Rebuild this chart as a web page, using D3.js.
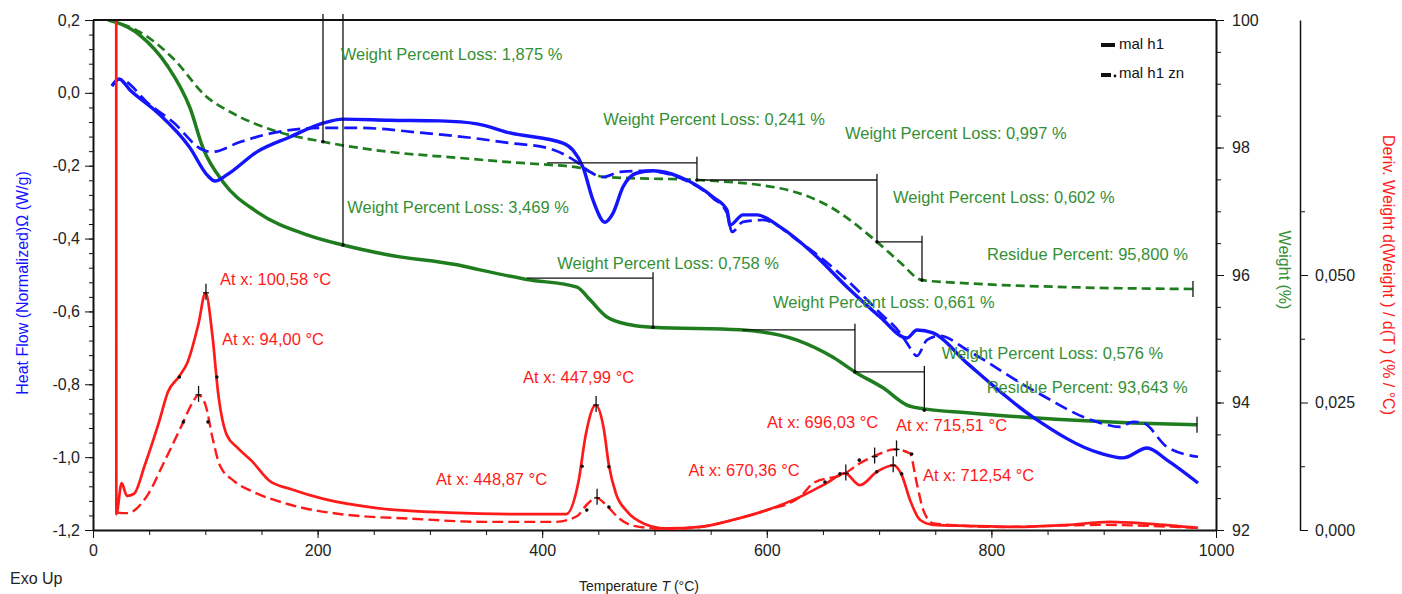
<!DOCTYPE html>
<html>
<head>
<meta charset="utf-8">
<script src="https://cdn.jsdelivr.net/npm/d3@7"></script>
<style>
  body { margin: 0; background: #fff; }
  svg  { display: block; font-family: "Liberation Sans", Arial, sans-serif; }
</style>
</head>
<body>
<div id="chart"></div>
<script>
// ---- data (temperature °C, value) ----
const tempTicks = [0, 200, 400, 600, 800, 1000]
const heatTicks = [0.2, 0, -0.2, -0.4, -0.6, -0.8, -1.0, -1.2]
const weightTicks = [100, 98, 96, 94, 92]
const derivTicks = [0, 0.025, 0.05]

const seriesNames = ['mal h1', 'mal h1 zn']

// heat flow (W/g)
const heatH1 = [
  [16.9, 0.019], [23.2, 0.038], [32.9, 0.008], [57.0, -0.053], [86.4, -0.151], [101.5, -0.225],
  [108.6, -0.242], [119.3, -0.225], [146.0, -0.162], [175.4, -0.121], [204.8, -0.083], [222.6, -0.072],
  [264.5, -0.075], [309.0, -0.077], [341.9, -0.085], [371.3, -0.110], [418.5, -0.138], [427.4, -0.157],
  [436.3, -0.204], [445.2, -0.294], [455.9, -0.355], [463.1, -0.330], [472.0, -0.258], [484.4, -0.220],
  [498.7, -0.214], [522.7, -0.231], [552.1, -0.286], [564.6, -0.322], [567.2, -0.363], [578.8, -0.335],
  [591.3, -0.335], [611.8, -0.368], [641.1, -0.440], [671.4, -0.533], [700.8, -0.615], [724.8, -0.673],
  [733.7, -0.651], [748.0, -0.659], [778.3, -0.742], [837.0, -0.890], [896.7, -0.989], [917.2, -1.002],
  [938.6, -0.975], [956.4, -1.008], [984.0, -1.071]
]
const heatH1Zn = [
  [16.9, 0.019], [23.2, 0.038], [50.8, -0.033], [71.2, -0.080], [98.0, -0.157], [106.0, -0.162],
  [130.9, -0.135], [160.3, -0.110], [204.8, -0.096], [235.1, -0.096], [293.9, -0.110], [338.4, -0.124],
  [371.3, -0.138], [404.3, -0.151], [431.0, -0.190], [442.6, -0.217], [454.1, -0.231], [469.3, -0.217],
  [493.3, -0.214], [522.7, -0.234], [552.1, -0.289], [564.6, -0.330], [569.0, -0.382], [578.8, -0.354],
  [596.6, -0.349], [626.9, -0.404], [671.4, -0.514], [700.8, -0.604], [718.6, -0.659], [724.8, -0.687],
  [733.7, -0.722], [742.7, -0.678], [754.2, -0.667], [778.3, -0.706], [837.0, -0.816], [896.7, -0.906],
  [914.5, -0.917], [926.1, -0.903], [935.0, -0.906], [956.4, -0.972], [984.0, -0.999]
]

// weight (%)
const weightH1 = [
  [13.4, 100], [19.6, 99.97], [41.9, 99.76], [65.9, 99.29], [86.4, 98.62], [98.0, 97.99], [115.8, 97.46],
  [146.0, 96.99], [190.6, 96.63], [222.6, 96.47], [264.5, 96.31], [324.1, 96.16], [344.6, 96.08],
  [386.5, 95.93], [431.0, 95.81], [442.6, 95.61], [457.7, 95.34], [478.2, 95.22], [498.7, 95.18],
  [576.1, 95.14], [626.9, 94.98], [659.0, 94.71], [678.5, 94.48], [703.5, 94.23], [724.8, 93.96],
  [740.0, 93.90], [778.3, 93.84], [837.0, 93.76], [926.1, 93.68], [983.1, 93.65]
]
const weightH1Zn = [
  [13.4, 100], [41.9, 99.81], [71.2, 99.40], [101.5, 98.79], [122.0, 98.56], [160.3, 98.27],
  [204.8, 98.09], [264.5, 97.93], [324.1, 97.84], [371.3, 97.77], [404.3, 97.73], [433.7, 97.68],
  [454.1, 97.54], [478.2, 97.52], [537.8, 97.49], [611.8, 97.36], [656.3, 97.07], [698.1, 96.52],
  [718.6, 96.20], [738.2, 95.92], [778.3, 95.87], [867.3, 95.81], [979.5, 95.78]
]

// derivative weight (%/°C)
const derivH1 = [
  [20.7, 0.100], [20.8, 0.0031], [25.5, 0.0092], [30.2, 0.0067], [36.5, 0.0071], [46.1, 0.0127],
  [58.8, 0.0212], [66.8, 0.0271], [76.3, 0.0300], [84.2, 0.0329], [93.9, 0.0404], [100.2, 0.0465],
  [106.5, 0.0378], [111.3, 0.0271], [119.2, 0.0186], [128.8, 0.0161], [141.5, 0.0135], [157.4, 0.0096],
  [176.5, 0.0080], [205.2, 0.0061], [252.9, 0.0043], [316.5, 0.0034], [380.1, 0.0031], [421.2, 0.0031],
  [432.4, 0.0096], [438.7, 0.0186], [447.6, 0.0245], [454.7, 0.0200], [459.4, 0.0127], [465.7, 0.0071],
  [475.3, 0.0037], [491.2, 0.0012], [510.9, 0.0003], [540.6, 0.0006], [570.2, 0.0020], [599.9, 0.0039],
  [629.6, 0.0065], [653.3, 0.0092], [669.6, 0.0111], [683.0, 0.0088], [697.9, 0.0114], [712.6, 0.0127],
  [720.1, 0.0108], [727.5, 0.0059], [736.4, 0.0020], [748.3, 0.0010], [778.0, 0.0008], [822.5, 0.0006],
  [867.3, 0.0010], [905.6, 0.0016], [941.2, 0.0012], [984.0, 0.0004]
]
const derivH1Zn = [
  [21.4, 0.0034], [30.2, 0.0033], [49.3, 0.0071], [62.0, 0.0127], [77.9, 0.0200], [89.0, 0.0251],
  [93.9, 0.0265], [100.2, 0.0245], [106.5, 0.0180], [112.9, 0.0127], [125.6, 0.0096], [141.5, 0.0076],
  [173.3, 0.0051], [221.0, 0.0031], [284.6, 0.0022], [348.2, 0.0016], [411.8, 0.0016], [430.8, 0.0027],
  [440.3, 0.0051], [448.3, 0.0063], [457.8, 0.0047], [468.9, 0.0022], [481.7, 0.0008], [511.0, 0.0002],
  [540.6, 0.0006], [570.0, 0.0020], [600.0, 0.0039], [629.6, 0.0065], [641.4, 0.0092], [669.6, 0.0111],
  [683.0, 0.0131], [694.8, 0.0144], [714.2, 0.0158], [727.5, 0.0150], [733.5, 0.0092], [739.4, 0.0039],
  [748.3, 0.0013], [807.6, 0.0006], [896.7, 0.0010], [984.0, 0.0004]
]

// step analysis brackets on the weight curves
const stepsH1 = [
  { from: 13.4, to: 222.6, w0: 100, w1: 96.47 },
  { from: 386.5, to: 498.7, w0: 95.95, w1: 95.18 },
  { from: 578.0, to: 678.5, w0: 95.14, w1: 94.48 },
  { from: 678.5, to: 740.3, w0: 94.48, w1: 93.88 },
]
const stepsH1Zn = [
  { from: 13.4, to: 204.8, w0: 100, w1: 98.09 },
  { from: 404.3, to: 537.8, w0: 97.76, w1: 97.49 },
  { from: 537.8, to: 698.1, w0: 97.49, w1: 96.52 },
  { from: 698.1, to: 738.2, w0: 96.52, w1: 95.92 },
]
const weightLabels = [
  { text: 'Weight Percent Loss: 1,875 %', t: 220.6, w: 99.38 },
  { text: 'Weight Percent Loss: 3,469 %', t: 226.4, w: 96.98 },
  { text: 'Weight Percent Loss: 0,241 %', t: 454.4, w: 98.35 },
  { text: 'Weight Percent Loss: 0,997 %', t: 669.6, w: 98.13 },
  { text: 'Weight Percent Loss: 0,602 %', t: 712.4, w: 97.13 },
  { text: 'Residue Percent: 95,800 %', t: 796.1, w: 96.24 },
  { text: 'Weight Percent Loss: 0,758 %', t: 413.4, w: 96.10 },
  { text: 'Weight Percent Loss: 0,661 %', t: 605.5, w: 95.48 },
  { text: 'Weight Percent Loss: 0,576 %', t: 755.7, w: 94.68 },
  { text: 'Residue Percent: 93,643 %', t: 795.8, w: 94.15 },
]

// peak markers on the derivative curves
const peaksH1 = [[100.58, 0.0465], [447.99, 0.0245], [670.36, 0.0111], [712.54, 0.0127]]
const peaksH1Zn = [[94.00, 0.0265], [448.87, 0.0063], [696.03, 0.0144], [715.51, 0.0158]]
const dotsH1 = [[76.9, 0.0300], [110.3, 0.0300], [435.5, 0.0125], [459.4, 0.0124], [651.8, 0.0094], [697.9, 0.0114], [720.1, 0.0110]]
const dotsH1Zn = [[80.5, 0.0212], [102.4, 0.0212], [439.7, 0.0039], [459.4, 0.0045], [665.2, 0.0110], [682.4, 0.0137], [729.0, 0.0149]]
const peakLabels = [
  { text: 'At x: 100,58 °C', t: 113.1, d: 0.0480 },
  { text: 'At x: 94,00 °C', t: 114.9, d: 0.0363 },
  { text: 'At x: 447,99 °C', t: 382.9, d: 0.0288 },
  { text: 'At x: 448,87 °C', t: 305.4, d: 0.0088 },
  { text: 'At x: 696,03 °C', t: 600.2, d: 0.0200 },
  { text: 'At x: 715,51 °C', t: 715.0, d: 0.0194 },
  { text: 'At x: 670,36 °C', t: 530.3, d: 0.0106 },
  { text: 'At x: 712,54 °C', t: 739.1, d: 0.0096 },
]

// ---- layout ----
const W = 1402, H = 594
const BLUE = '#1414ff', GREEN = '#1f7d1f', GREEN_TXT = '#359035', RED = '#ff1a1a', INK = '#222'

const svg = d3.select('#chart').append('svg').attr('width', W).attr('height', H)
svg.append('rect').attr('width', W).attr('height', H).attr('fill', '#fff')

const x  = d3.scaleLinear([0, 1000], [93, 1216])
const yH = d3.scaleLinear([-1.2, 0.2], [530, 20])
const yW = d3.scaleLinear([92, 100], [530, 20])
const yD = d3.scaleLinear([0, 0.1], [530, 20])

const loc = d3.formatLocale({ decimal: ',', thousands: '.', grouping: [3], currency: ['', ''], minus: '-' })

svg.append('clipPath').attr('id', 'plot')
  .append('rect').attr('x', 93).attr('y', 20).attr('width', 1123).attr('height', 510)

function styleAxis(g, size) {
  g.selectAll('text').attr('fill', INK).style('font-size', size + 'px').style('font-family', 'inherit')
  g.selectAll('line,path').attr('stroke', '#111')
}

// minor ticks first
svg.append('g').attr('transform', 'translate(0,530)')
  .call(d3.axisBottom(x).tickValues(d3.range(0, 1001, 50)).tickSize(5).tickFormat(''))
  .call(g => g.select('.domain').remove())
  .call(g => g.selectAll('line').attr('stroke', '#111'))
svg.append('g').attr('transform', 'translate(93,0)')
  .call(d3.axisLeft(yH).tickValues(d3.range(-1.2, 0.2001, 0.04)).tickSize(4).tickFormat(''))
  .call(g => g.select('.domain').remove())
  .call(g => g.selectAll('line').attr('stroke', '#111'))
svg.append('g').attr('transform', 'translate(1216,0)')
  .call(d3.axisRight(yW).tickValues(d3.range(92, 100.01, 0.5)).tickSize(5).tickFormat(''))
  .call(g => g.select('.domain').remove())
  .call(g => g.selectAll('line').attr('stroke', '#111'))
svg.append('g').attr('transform', 'translate(1300,0)')
  .call(d3.axisRight(yD).tickValues([0.0125, 0.0375, 0.0625]).tickSize(5).tickFormat(''))
  .call(g => g.select('.domain').remove())
  .call(g => g.selectAll('line').attr('stroke', '#111'))

// major axes
svg.append('g').attr('transform', 'translate(0,530)')
  .call(d3.axisBottom(x).tickValues(tempTicks).tickSize(8).tickSizeOuter(0).tickPadding(7).tickFormat(d3.format('d')))
  .call(g => styleAxis(g, 16))
  .call(g => g.select('.domain').attr('stroke-width', 2))
svg.append('g').attr('transform', 'translate(93,0)')
  .call(d3.axisLeft(yH).tickValues(heatTicks).tickSize(8).tickSizeOuter(0).tickPadding(5).tickFormat(loc.format('.1f')))
  .call(g => styleAxis(g, 16))
  .call(g => g.select('.domain').attr('stroke-width', 2))
svg.append('g').attr('transform', 'translate(1216,0)')
  .call(d3.axisRight(yW).tickValues(weightTicks).tickSize(8).tickSizeOuter(0).tickPadding(8).tickFormat(d3.format('d')))
  .call(g => styleAxis(g, 16))
  .call(g => g.select('.domain').attr('stroke-width', 2))
svg.append('g').attr('transform', 'translate(1300,0)')
  .call(d3.axisRight(yD).tickValues(derivTicks).tickSize(8).tickSizeOuter(0).tickPadding(7).tickFormat(loc.format('.3f')))
  .call(g => styleAxis(g, 16))
  .call(g => g.select('.domain').attr('stroke-width', 1.5))

// top frame
svg.append('line').attr('x1', 93).attr('x2', 1216).attr('y1', 20).attr('y2', 20)
  .attr('stroke', '#111').attr('stroke-width', 2)

// axis titles
svg.append('text').attr('transform', 'translate(22,283) rotate(-90)')
  .attr('text-anchor', 'middle').attr('dominant-baseline', 'central')
  .attr('fill', BLUE).style('font-size', '16px').text('Heat Flow (Normalized)Ω (W/g)')
svg.append('text').attr('transform', 'translate(1284,270) rotate(90)')
  .attr('text-anchor', 'middle').attr('dominant-baseline', 'central')
  .attr('fill', GREEN_TXT).style('font-size', '16px').text('Weight (%)')
svg.append('text').attr('transform', 'translate(1388,275) rotate(90)')
  .attr('text-anchor', 'middle').attr('dominant-baseline', 'central')
  .attr('fill', RED).style('font-size', '16px').text('Deriv. Weight d(Weight ) / d(T ) (% / °C)')
const xt = svg.append('text').attr('x', 639).attr('y', 591).attr('text-anchor', 'middle')
  .attr('fill', INK).style('font-size', '14px')
xt.append('tspan').text('Temperature ')
xt.append('tspan').style('font-style', 'italic').text('T')
xt.append('tspan').text(' (°C)')
svg.append('text').attr('x', 10).attr('y', 584).attr('fill', INK).style('font-size', '16px').text('Exo Up')

// curves
const plot = svg.append('g').attr('clip-path', 'url(#plot)')
const lineOf = y => d3.line().x(d => x(d[0])).y(d => y(d[1])).curve(d3.curveMonotoneX)

const curves = [
  { data: weightH1Zn, y: yW, color: GREEN, width: 2.7, dash: '9,5' },
  { data: weightH1,   y: yW, color: GREEN, width: 3.5, dash: null },
  { data: heatH1Zn,   y: yH, color: BLUE,  width: 2.7, dash: '13,6' },
  { data: heatH1,     y: yH, color: BLUE,  width: 3.4, dash: null },
  { data: derivH1Zn,  y: yD, color: RED,   width: 2.4, dash: '11,5' },
  { data: derivH1,    y: yD, color: RED,   width: 2.7, dash: null },
]
curves.forEach(c => {
  plot.append('path').datum(c.data)
    .attr('d', lineOf(c.y))
    .attr('fill', 'none')
    .attr('stroke', c.color)
    .attr('stroke-width', c.width)
    .attr('stroke-dasharray', c.dash)
    .attr('stroke-linejoin', 'round')
})

// step brackets
const ann = svg.append('g').attr('stroke', '#111').attr('stroke-width', 1.3)
;[...stepsH1, ...stepsH1Zn].forEach(s => {
  ann.append('line').attr('x1', x(s.from)).attr('x2', x(s.to)).attr('y1', yW(s.w0)).attr('y2', yW(s.w0))
  ann.append('line').attr('x1', x(s.to)).attr('x2', x(s.to)).attr('y1', yW(s.w0) - 6).attr('y2', yW(s.w1))
  svg.append('circle').attr('cx', x(s.to)).attr('cy', yW(s.w1)).attr('r', 1.8).attr('fill', '#111')
})
// residue end ticks
;[weightH1, weightH1Zn].forEach(d => {
  const last = d[d.length - 1]
  ann.append('line').attr('x1', x(last[0])).attr('x2', x(last[0]))
    .attr('y1', yW(last[1]) - 8).attr('y2', yW(last[1]) + 8)
})

// peak markers
;[...peaksH1, ...peaksH1Zn].forEach(p => {
  ann.append('line').attr('x1', x(p[0])).attr('x2', x(p[0])).attr('y1', yD(p[1]) - 9).attr('y2', yD(p[1]) + 7)
  ann.append('line').attr('x1', x(p[0]) - 3).attr('x2', x(p[0]) + 3).attr('y1', yD(p[1])).attr('y2', yD(p[1]))
})
svg.append('g').selectAll('circle').data([...dotsH1, ...dotsH1Zn]).join('circle')
  .attr('cx', d => x(d[0])).attr('cy', d => yD(d[1])).attr('r', 1.8).attr('fill', '#111')

// labels
svg.append('g').selectAll('text').data(weightLabels).join('text')
  .attr('x', d => x(d.t)).attr('y', d => yW(d.w))
  .attr('fill', GREEN_TXT).style('font-size', '16.5px').text(d => d.text)
svg.append('g').selectAll('text').data(peakLabels).join('text')
  .attr('x', d => x(d.t)).attr('y', d => yD(d.d))
  .attr('fill', RED).style('font-size', '16.5px').text(d => d.text)

// legend
const leg = svg.append('g').attr('transform', 'translate(1098,0)')
leg.append('line').attr('x1', 3).attr('x2', 17).attr('y1', 45).attr('y2', 45).attr('stroke', '#111').attr('stroke-width', 4)
leg.append('line').attr('x1', 3).attr('x2', 13).attr('y1', 75).attr('y2', 75).attr('stroke', '#111').attr('stroke-width', 4)
leg.append('circle').attr('cx', 17).attr('cy', 76).attr('r', 1.4).attr('fill', '#111')
leg.selectAll('text.lg').data(seriesNames).join('text')
  .attr('x', 21).attr('y', (d, i) => 49 + i * 29)
  .attr('fill', '#111').style('font-size', '15px').text(d => d)
</script>
</body>
</html>
